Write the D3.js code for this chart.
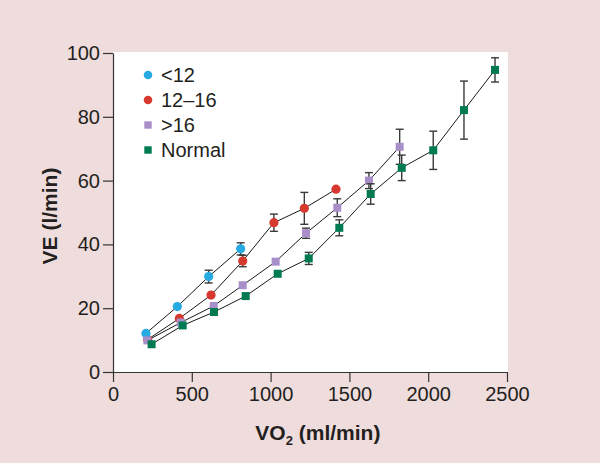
<!DOCTYPE html>
<html>
<head>
<meta charset="utf-8">
<script src="https://cdnjs.cloudflare.com/ajax/libs/d3/7.8.5/d3.min.js"></script>
<style>
  body { margin: 0; background: #efdcdc; }
  svg { display: block; font-family: "Liberation Sans", Arial, Helvetica, sans-serif; }
</style>
</head>
<body>
<div class="chart"></div>
<script>
// data (VO2 ml/min, VE l/min, +/- error)
var lt12X   = [209, 408, 607, 810];
var lt12Y   = [12.1, 20.5, 29.9, 38.6];
var lt12Err = [0, 0, 2.0, 1.9];

var mid16X   = [220, 421, 622, 823, 1021, 1214, 1415];
var mid16Y   = [10.2, 16.8, 24.1, 34.8, 46.8, 51.3, 57.3];
var mid16Err = [0, 0, 0, 1.8, 2.7, 5.0, 0];

var gt16X   = [218, 430, 639, 823, 1032, 1225, 1423, 1624, 1819];
var gt16Y   = [9.9, 15.5, 20.7, 27.2, 34.6, 43.5, 51.5, 60.0, 70.6];
var gt16Err = [0, 0, 0, 0, 0, 1.6, 2.8, 2.5, 5.5];

var normX   = [245, 442, 641, 842, 1045, 1242, 1436, 1635, 1832, 2032, 2227, 2424];
var normY   = [8.7, 14.6, 18.8, 23.8, 30.8, 35.6, 45.2, 55.8, 64.0, 69.5, 82.1, 94.7];
var normErr = [0, 0, 0, 0, 0, 1.9, 2.5, 3.2, 4.0, 6.0, 9.1, 3.8];

var seriesNames = ["<12", "12\u201316", ">16", "Normal"];
var xTicks = [0, 500, 1000, 1500, 2000, 2500];
var yTicks = [0, 20, 40, 60, 80, 100];

function zipSeries(xs, ys, errs) {
  return xs.map(function(x, i) { return {x: x, y: ys[i], e: errs[i]}; });
}

var series = [
  {name: seriesNames[1], shape: "circle", color: "#d63a2e", pts: zipSeries(mid16X, mid16Y, mid16Err)},
  {name: seriesNames[0], shape: "circle", color: "#27aae1", pts: zipSeries(lt12X, lt12Y, lt12Err)},
  {name: seriesNames[2], shape: "square", color: "#a98fc9", pts: zipSeries(gt16X, gt16Y, gt16Err)},
  {name: seriesNames[3], shape: "square", color: "#007a52", pts: zipSeries(normX, normY, normErr)}
];

var svgWidth = 600, svgHeight = 463;
var margin = {top: 53, right: 93, bottom: 91, left: 113};
var width = svgWidth - margin.left - margin.right,
    height = svgHeight - margin.top - margin.bottom;

var svg = d3.select(".chart").append("svg")
    .attr("width", svgWidth)
    .attr("height", svgHeight);

svg.append("rect")
  .attr("width", svgWidth).attr("height", svgHeight)
  .attr("fill", "#efdcdc");

var g = svg.append("g")
  .attr("transform", "translate(" + margin.left + "," + margin.top + ")");

var x = d3.scaleLinear().domain([0, 2500]).range([0, width]);
var y = d3.scaleLinear().domain([0, 100]).range([height, 0]);

// white plotting area
g.append("rect")
  .attr("x", 0).attr("y", -1)
  .attr("width", width + 1).attr("height", height + 1)
  .attr("fill", "#ffffff");

var xAxis = g.append("g")
  .attr("transform", "translate(0," + height + ")")
  .call(d3.axisBottom(x).tickValues(xTicks).tickFormat(d3.format("d"))
    .tickSize(10).tickPadding(5).tickSizeOuter(0));

var yAxis = g.append("g")
  .call(d3.axisLeft(y).tickValues(yTicks).tickFormat(d3.format("d"))
    .tickSize(10).tickPadding(3).tickSizeOuter(0));

[xAxis, yAxis].forEach(function(ax) {
  ax.select(".domain").attr("stroke", "#333").attr("stroke-width", 1.2);
  ax.selectAll(".tick line").attr("stroke", "#333").attr("stroke-width", 1.2);
  ax.selectAll(".tick text")
    .attr("fill", "#231f20")
    .style("font-size", "20px")
    .style("font-family", "'Liberation Sans', Arial, sans-serif");
});

// axis titles
var xt = svg.append("text")
  .attr("x", margin.left + x(1300))
  .attr("y", 440)
  .attr("text-anchor", "middle")
  .attr("fill", "#231f20")
  .style("font-size", "21px")
  .style("font-weight", "bold");
xt.append("tspan").text("VO");
xt.append("tspan").attr("dy", 5).style("font-size", "13px").text("2");
xt.append("tspan").attr("dy", -5).text(" (ml/min)");

svg.append("text")
  .attr("transform", "translate(57,216) rotate(-90)")
  .attr("text-anchor", "middle")
  .attr("fill", "#231f20")
  .style("font-size", "21px")
  .style("font-weight", "bold")
  .text("VE (l/min)");

var line = d3.line()
  .x(function(d) { return x(d.x); })
  .y(function(d) { return y(d.y); });

// connecting lines first so markers sit on top
series.forEach(function(s) {
  g.append("path")
    .datum(s.pts)
    .attr("d", line)
    .attr("fill", "none")
    .attr("stroke", "#1a1a1a")
    .attr("stroke-width", 1);
});

series.forEach(function(s) {
  var sg = g.append("g");
  var withErr = s.pts.filter(function(d) { return d.e > 0; });

  var eb = sg.selectAll(".err").data(withErr).enter().append("g")
    .attr("stroke", "#3a3a3a").attr("stroke-width", 1.4);
  eb.append("line")
    .attr("x1", function(d) { return x(d.x); })
    .attr("x2", function(d) { return x(d.x); })
    .attr("y1", function(d) { return y(d.y + d.e); })
    .attr("y2", function(d) { return y(d.y - d.e); });
  eb.append("line")
    .attr("x1", function(d) { return x(d.x) - 4; })
    .attr("x2", function(d) { return x(d.x) + 4; })
    .attr("y1", function(d) { return y(d.y + d.e); })
    .attr("y2", function(d) { return y(d.y + d.e); });
  eb.append("line")
    .attr("x1", function(d) { return x(d.x) - 4; })
    .attr("x2", function(d) { return x(d.x) + 4; })
    .attr("y1", function(d) { return y(d.y - d.e); })
    .attr("y2", function(d) { return y(d.y - d.e); });

  if (s.shape == "circle") {
    sg.selectAll(".pt").data(s.pts).enter().append("circle")
      .attr("cx", function(d) { return x(d.x); })
      .attr("cy", function(d) { return y(d.y); })
      .attr("r", 4.6)
      .attr("fill", s.color);
  } else {
    sg.selectAll(".pt").data(s.pts).enter().append("rect")
      .attr("x", function(d) { return x(d.x) - 4; })
      .attr("y", function(d) { return y(d.y) - 4; })
      .attr("width", 8).attr("height", 8)
      .attr("fill", s.color);
  }
});

// legend
var legendOrder = [series[1], series[0], series[2], series[3]];
var legend = svg.append("g").attr("transform", "translate(148,75)");
legendOrder.forEach(function(s, i) {
  var row = legend.append("g").attr("transform", "translate(0," + (i * 25) + ")");
  if (s.shape == "circle") {
    row.append("circle").attr("r", 4.3).attr("fill", s.color);
  } else {
    row.append("rect").attr("x", -3.7).attr("y", -3.7)
      .attr("width", 7.4).attr("height", 7.4).attr("fill", s.color);
  }
  row.append("text")
    .attr("x", 13).attr("dy", "0.35em")
    .attr("fill", "#231f20")
    .style("font-size", "20px")
    .text(s.name);
});
</script>
</body>
</html>
